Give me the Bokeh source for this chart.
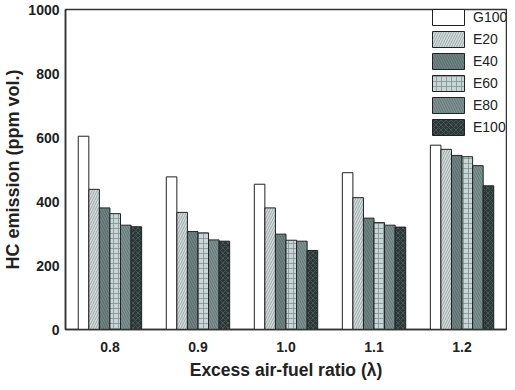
import numpy as np
from bokeh.plotting import figure
from bokeh.models import FixedTicker, SingleIntervalTicker, Legend, LegendItem, Range1d
from bokeh.embed import file_html
from bokeh.resources import INLINE

lambdas = [0.8, 0.9, 1.0, 1.1, 1.2]
tick_labels = ["0.8", "0.9", "1.0", "1.1", "1.2"]
series_names = ["G100", "E20", "E40", "E60", "E80", "E100"]
g100 = [604, 477, 454, 490, 576]
e20 = [438, 366, 380, 412, 563]
e40 = [380, 306, 298, 348, 544]
e60 = [362, 302, 279, 334, 540]
e80 = [326, 280, 276, 326, 512]
e100 = [321, 276, 247, 320, 449]
series_values = [g100, e20, e40, e60, e80, e100]

styles = [
    dict(fill_color="#ffffff", hatch_pattern=None, hatch_color="#ffffff"),
    dict(fill_color="#d3dcdc", hatch_pattern="/", hatch_color="#8c9c9c"),
    dict(fill_color="#728686", hatch_pattern="\\", hatch_color="#4f6262"),
    dict(fill_color="#cad6d6", hatch_pattern="+", hatch_color="#7d9090"),
    dict(fill_color="#809494", hatch_pattern="\\", hatch_color="#5a6c6c"),
    dict(fill_color="#2c3838", hatch_pattern="x", hatch_color="#4e5e5e"),
]

bar_w = 0.012

p = figure(width=507, height=382, output_backend="svg", toolbar_location=None,
           x_range=Range1d(0.7495, 1.2505), y_range=Range1d(0, 1000),
           min_border_left=57, min_border_right=1, min_border_top=9, min_border_bottom=47)

renderers = []
for i, (name, vals, st) in enumerate(zip(series_names, series_values, styles)):
    xs = np.array(lambdas) + (i - 2.5) * bar_w
    kw = dict(fill_color=st["fill_color"], line_color="#222222", line_width=1)
    if st["hatch_pattern"]:
        kw.update(hatch_pattern=st["hatch_pattern"], hatch_color=st["hatch_color"],
                  hatch_scale=5, hatch_weight=0.8)
    r = p.vbar(x=xs, top=vals, width=bar_w, bottom=0, **kw)
    renderers.append(r)

legend = Legend(items=[LegendItem(label=n, renderers=[r]) for n, r in zip(series_names, renderers)],
                location=(363, 192), margin=0, padding=0, spacing=2,
                glyph_width=40, glyph_height=20, label_height=20, label_standoff=5,
                label_text_font="Liberation Sans", label_text_font_size="14px",
                label_text_color="#222222",
                border_line_color=None, background_fill_alpha=0)
p.add_layout(legend)

p.grid.visible = False
p.outline_line_color = "#333333"
p.outline_line_width = 1.5

p.xaxis.ticker = FixedTicker(ticks=lambdas)
p.xaxis.major_label_overrides = {v: t for v, t in zip(lambdas, tick_labels)}
p.xaxis.axis_label = "Excess air-fuel ratio (λ)"

p.yaxis.ticker = SingleIntervalTicker(interval=200, num_minor_ticks=2)
p.yaxis.major_tick_in = 6
p.yaxis.major_tick_out = 0
p.yaxis.minor_tick_in = 4
p.yaxis.minor_tick_out = 0
p.yaxis.axis_label = "HC emission (ppm vol.)"

for ax in (p.xaxis, p.yaxis):
    ax.axis_line_color = "#333333"
    ax.axis_line_width = 1.5
    ax.major_tick_line_color = "#333333" if ax is p.yaxis else None
    ax.minor_tick_line_color = "#333333" if ax is p.yaxis else None
    ax.major_label_text_font = "Liberation Sans"
    ax.major_label_text_font_style = "bold"
    ax.major_label_text_font_size = "14px"
    ax.major_label_text_color = "#222222"
    ax.major_label_standoff = 6
    ax.axis_label_text_font = "Liberation Sans"
    ax.axis_label_text_font_style = "bold"
    ax.axis_label_text_color = "#222222"

p.xaxis.axis_label_text_font_size = "17.5px"
p.yaxis.axis_label_text_font_size = "18px"
p.xaxis.axis_label_standoff = 5
p.yaxis.axis_label_standoff = 2

open("out.html", "w").write(file_html(p, INLINE))
